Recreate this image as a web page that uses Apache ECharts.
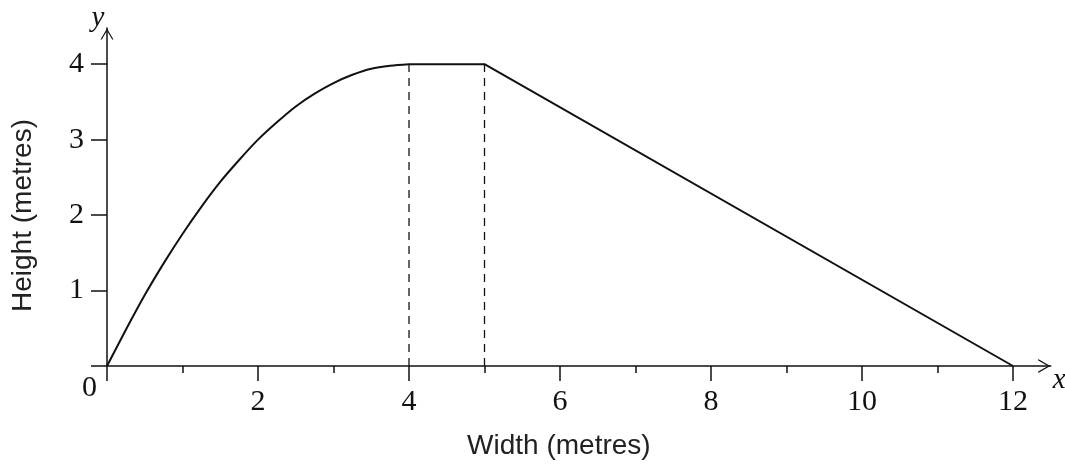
<!DOCTYPE html>
<html>
<head>
<meta charset="utf-8">
<script src="https://cdn.jsdelivr.net/npm/echarts@6/dist/echarts.min.js"></script>
<style>html,body{margin:0;padding:0;background:#fff}#c{width:1065px;height:466px}</style>
</head>
<body>
<div id="c"></div>
<script>
// Data
const curveX = [0, 0.25, 0.5, 0.75, 1, 1.25, 1.5, 1.75, 2, 2.25, 2.5, 2.75, 3, 3.25, 3.5, 3.75, 4];
const curveY = [0, 0.48, 0.94, 1.36, 1.75, 2.11, 2.44, 2.73, 3.0, 3.23, 3.44, 3.61, 3.75, 3.86, 3.94, 3.98, 4];
const roofX = [4, 5, 12];
const roofY = [4, 4, 0];
const dashX = [4, 5];
const dashTop = 4;
const xMajorTicks = [0, 2, 4, 6, 8, 10, 12];
const xMajorLabels = [2, 4, 6, 8, 10, 12];
const xMinorTicks = [1, 3, 5, 7, 9, 11];
const yTicks = [0, 1, 2, 3, 4];
const yLabels = [1, 2, 3, 4];

const ink = '#111';
const serif = 'Liberation Serif';
const sans = 'Liberation Sans';
const chevron = 'path://M0,12 L7,0 L14,12 L12.6,12 L7,2.4 L1.4,12 Z';

const chart = echarts.init(document.getElementById('c'), null, {renderer: 'canvas'});
const dashSeries = dashX.map(x => ({
  type: 'line', xAxisIndex: 0, yAxisIndex: 0, symbol: 'none', silent: true,
  data: [[x, 0], [x, dashTop]],
  lineStyle: {color: ink, width: 1.3, type: [8, 6]}
}));
chart.setOption({
  animation: false,
  backgroundColor: '#fff',
  grid: {left: 107, right: 14.25, top: 28, bottom: 100, containLabel: false, outerBoundsMode: 'none'},
  xAxis: [{
    type: 'value', min: 0, max: 12.5, position: 'bottom',
    axisLine: {show: true, onZero: false, lineStyle: {color: ink, width: 1.5},
      symbol: ['none', chevron], symbolSize: [14, 13], symbolOffset: [0, -6.5]},
    axisTick: {show: true, length: 15, customValues: xMajorTicks, lineStyle: {color: ink, width: 1.5}},
    axisLabel: {show: true, customValues: xMajorLabels, margin: 21,
      fontFamily: serif, fontSize: 30, color: ink},
    splitLine: {show: false},
    name: 'x', nameLocation: 'end', nameGap: 2,
    nameTextStyle: {fontFamily: serif, fontStyle: 'italic', fontSize: 29, color: ink,
      verticalAlign: 'top', padding: [0, 0, 0, 0]}
  }, {
    type: 'value', min: 0, max: 12.5, position: 'bottom',
    axisLine: {show: false, onZero: false},
    axisTick: {show: true, length: 7, customValues: xMinorTicks, lineStyle: {color: ink, width: 1.5}},
    axisLabel: {show: false},
    splitLine: {show: false},
    name: 'Width (metres)', nameLocation: 'middle', nameGap: 66,
    nameTextStyle: {fontFamily: sans, fontSize: 28, color: '#222', padding: [0, 40, 0, 0]}
  }],
  yAxis: [{
    type: 'value', min: 0, max: 4.48, position: 'left',
    axisLine: {show: true, onZero: false, lineStyle: {color: ink, width: 1.5},
      symbol: ['none', chevron], symbolSize: [13, 12], symbolOffset: [0, -6]},
    axisTick: {show: true, length: 16, customValues: yTicks, lineStyle: {color: ink, width: 1.5}},
    axisLabel: {show: true, customValues: yLabels, margin: 23,
      fontFamily: serif, fontSize: 30, color: ink, padding: [3, 0, 0, 0]},
    splitLine: {show: false},
    name: 'y', nameLocation: 'end', nameGap: -5,
    nameTextStyle: {fontFamily: serif, fontStyle: 'italic', fontSize: 29, color: ink,
      padding: [0, 18, 0, 0]}
  }, {
    type: 'value', min: 0, max: 4.48, position: 'left',
    axisLine: {show: false, onZero: false},
    axisTick: {show: false}, axisLabel: {show: false}, splitLine: {show: false},
    name: 'Height (metres)', nameLocation: 'middle', nameGap: 70, nameRotate: 90,
    nameTextStyle: {fontFamily: sans, fontSize: 28, color: '#222', padding: [0, 37, 0, 0]}
  }],
  series: [{
    type: 'line', xAxisIndex: 0, yAxisIndex: 0, symbol: 'none', silent: true,
    smooth: 0.3,
    data: curveX.map((x, i) => [x, curveY[i]]),
    lineStyle: {color: ink, width: 2}
  }, {
    type: 'line', xAxisIndex: 0, yAxisIndex: 0, symbol: 'none', silent: true,
    data: roofX.map((x, i) => [x, roofY[i]]),
    lineStyle: {color: ink, width: 2}
  }, ...dashSeries, {
    type: 'scatter', xAxisIndex: 0, yAxisIndex: 0, silent: true,
    symbolSize: 0, data: [[0, 0]], itemStyle: {opacity: 1},
    label: {show: true, formatter: '0', position: 'left', distance: 10, offset: [0, 22],
      fontFamily: serif, fontSize: 30, color: ink}
  }]
});
</script>
</body>
</html>
